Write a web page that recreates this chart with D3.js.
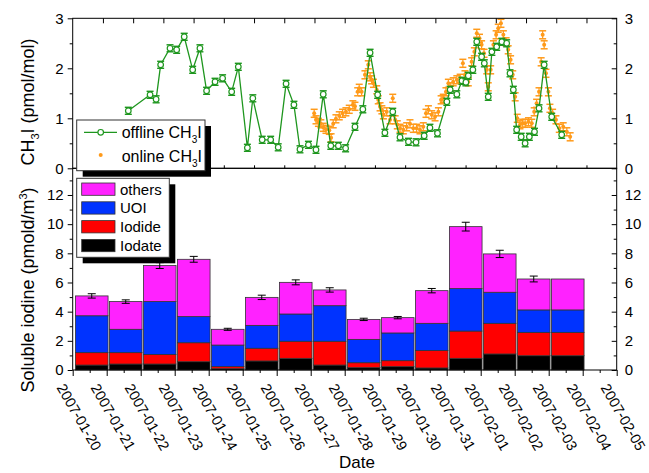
<!DOCTYPE html>
<html>
<head>
<meta charset="utf-8">
<script src="https://cdn.jsdelivr.net/npm/d3@7"></script>
<style>
  body { margin: 0; background: #fff; }
  text { font-family: Arial, "Liberation Sans", sans-serif; fill: #000; }
</style>
</head>
<body>
<svg id="chart" width="649" height="473"></svg>
<script>
// ---- data ----
// top panel: days since 2007-01-20 00:00 (top axis runs 18 days)
const offlineDay = [1.84, 2.56, 2.76, 2.91, 3.22, 3.44, 3.69, 3.97, 4.21, 4.43,
  4.71, 4.96, 5.26, 5.48, 5.78, 5.96, 6.27, 6.55, 6.80, 7.06,
  7.32, 7.52, 7.80, 8.05, 8.29, 8.54, 8.79, 9.03, 9.34, 9.60,
  9.84, 10.09, 10.33, 10.59, 10.83, 11.11, 11.36, 11.63, 11.82, 12.07,
  12.38, 12.49, 12.71, 12.88, 13.01, 13.09, 13.24, 13.37, 13.53, 13.62,
  13.75, 13.87, 14.03, 14.20, 14.36, 14.47, 14.58, 14.69, 14.84, 14.97,
  15.11, 15.28, 15.43, 15.60, 15.85, 16.18];
const offlineVal = [1.15, 1.47, 1.38, 2.07, 2.40, 2.37, 2.63, 1.97, 2.40, 1.55,
  1.73, 1.80, 1.53, 2.03, 0.41, 1.40, 0.57, 0.57, 0.42, 1.69,
  1.27, 0.38, 0.47, 0.37, 1.48, 0.45, 0.45, 0.40, 0.83, 1.18,
  2.31, 1.47, 0.71, 1.13, 0.62, 0.53, 0.52, 0.65, 0.81, 0.70,
  1.33, 1.57, 1.48, 1.75, 1.72, 1.85, 1.97, 2.53, 2.23, 2.10,
  1.43, 2.33, 2.43, 2.53, 2.50, 1.90, 1.57, 0.77, 0.63, 0.50,
  0.63, 0.73, 1.20, 2.07, 1.03, 0.67];

const onlineDay = [7.99, 8.05, 8.13, 8.21, 8.29, 8.38, 8.49, 8.55, 8.62, 8.71,
  8.82, 8.93, 9.04, 9.15, 9.27, 9.34, 9.43, 9.48, 9.56, 9.67,
  9.78, 9.84, 9.89, 9.95, 10.06, 10.11, 10.17, 10.23, 10.28, 10.39,
  10.50, 10.59, 10.67, 10.74, 10.83, 10.94, 11.05, 11.16, 11.27, 11.38,
  11.49, 11.60, 11.69, 11.77, 11.88, 11.99, 12.10, 12.19, 12.26, 12.35,
  12.43, 12.51, 12.59, 12.71, 12.82, 12.91, 12.98, 13.09, 13.20, 13.29,
  13.37, 13.46, 13.53, 13.61, 13.70, 13.75, 13.83, 13.92, 14.01, 14.08,
  14.17, 14.25, 14.34, 14.41, 14.49, 14.56, 14.64, 14.71, 14.80, 14.89,
  14.97, 15.08, 15.19, 15.27, 15.35, 15.43, 15.50, 15.55, 15.60, 15.66,
  15.74, 15.79, 15.88, 15.99, 16.10, 16.23, 16.35, 16.46];
const onlineVal = [1.10, 0.97, 0.92, 0.89, 0.82, 0.78, 0.76, 0.61, 0.89, 0.99,
  1.05, 1.10, 1.13, 1.18, 1.27, 1.24, 1.53, 1.60, 1.53, 1.87,
  2.07, 1.83, 1.77, 1.70, 1.57, 1.37, 1.23, 1.17, 1.07, 1.13,
  0.97, 1.40, 0.97, 0.87, 0.80, 0.77, 0.83, 0.89, 0.80, 0.80,
  0.77, 0.83, 1.10, 1.17, 1.07, 1.03, 1.13, 1.37, 1.40, 1.53,
  1.70, 1.63, 1.73, 1.77, 1.80, 2.10, 1.87, 1.73, 2.13, 2.33,
  2.70, 2.60, 2.47, 2.30, 1.97, 1.63, 1.97, 2.47, 2.67, 2.80,
  2.90, 2.67, 2.53, 2.37, 2.17, 1.87, 1.43, 1.00, 0.87, 0.90,
  0.90, 0.93, 0.90, 1.13, 1.30, 1.53, 2.13, 2.67, 2.47, 1.90,
  1.53, 1.20, 1.10, 0.97, 0.80, 0.83, 0.73, 0.63];

// bottom panel: daily soluble iodine species (pmol/m3)
const barDates = ["2007-01-20", "2007-01-21", "2007-01-22", "2007-01-23", "2007-01-24",
  "2007-01-25", "2007-01-26", "2007-01-27", "2007-01-28", "2007-01-29",
  "2007-01-30", "2007-01-31", "2007-02-01", "2007-02-02", "2007-02-03"];
const iodate = [0.34, 0.41, 0.41, 0.57, 0.09, 0.62, 0.80, 0.34, 0.16, 0.23, 0.14, 0.80, 1.10, 0.98, 0.98];
const iodide = [0.85, 0.78, 0.66, 1.30, 0.14, 0.87, 1.17, 1.63, 0.34, 0.41, 1.19, 1.87, 2.10, 1.60, 1.60];
const uoi    = [2.53, 1.60, 3.62, 1.79, 1.48, 1.57, 1.87, 2.44, 1.60, 1.90, 1.87, 2.91, 2.13, 1.54, 1.54];
const others = [1.36, 1.90, 2.47, 3.93, 1.08, 1.92, 2.17, 1.08, 1.37, 1.05, 2.24, 4.25, 2.63, 2.12, 2.12];
const totalErr = [0.15, 0.12, 0.2, 0.2, 0.07, 0.15, 0.17, 0.15, 0.08, 0.08, 0.15, 0.3, 0.25, 0.2, null];

const species = ["iodate", "iodide", "uoi", "others"];
const speciesColor = { iodate: "#000000", iodide: "#ff0000", uoi: "#0033ff", others: "#ff22ff" };
const legendItems = [["others", "others"], ["uoi", "UOI"], ["iodide", "Iodide"], ["iodate", "Iodate"]];

const green = "#1e961e";
const orange = "#ff9a1a";

// ---- layout ----
const left = 72.7, right = 616.7;
const topY1 = 18.3, topY0 = 168.3;
const botY1 = 168.3, botY0 = 370;
const DAY = 864e5;

const svg = d3.select("#chart");

const xTop = d3.scaleLinear().domain([0, 18]).range([left, right]);
const yTop = d3.scaleLinear().domain([0, 3]).range([topY0, topY1]);
const xBot = d3.scaleTime().domain([new Date(2007, 0, 20), new Date(2007, 1, 5)]).range([left, right]);
const yBot = d3.scaleLinear().domain([0, 13.83]).range([botY0, botY1]);

function tidy(g, size) {
  g.select(".domain").remove();
  g.selectAll("line").attr("stroke", "#000");
  g.selectAll("text").style("font-size", (size || 15) + "px").attr("fill", "#000");
}

// ---- bottom panel: stacked bars ----
const parse = d3.timeParse("%Y-%m-%d");
const table = barDates.map((d, i) => ({
  date: parse(d), iodate: iodate[i], iodide: iodide[i], uoi: uoi[i], others: others[i], err: totalErr[i]
}));
const stacked = d3.stack().keys(species)(table);

const bars = svg.append("g").attr("class", "bars");
bars.selectAll("g")
  .data(stacked)
  .enter()
  .append("g")
  .attr("fill", d => speciesColor[d.key])
  .selectAll("rect")
  .data(d => d)
  .enter()
  .append("rect")
  .attr("x", d => xBot(new Date(+d.data.date + 0.08 * DAY)))
  .attr("width", d => xBot(new Date(+d.data.date + 1.04 * DAY)) - xBot(new Date(+d.data.date + 0.08 * DAY)))
  .attr("y", d => yBot(d[1]))
  .attr("height", d => yBot(d[0]) - yBot(d[1]))
  .attr("stroke", "#333")
  .attr("stroke-width", 0.8);

const errG = svg.append("g").attr("stroke", "#000").attr("stroke-width", 1);
table.filter(d => d.err != null).forEach(d => {
  const tot = d.iodate + d.iodide + d.uoi + d.others;
  const cx = xBot(new Date(+d.date + 0.56 * DAY));
  errG.append("line").attr("x1", cx).attr("x2", cx).attr("y1", yBot(tot - d.err)).attr("y2", yBot(tot + d.err));
  errG.append("line").attr("x1", cx - 4).attr("x2", cx + 4).attr("y1", yBot(tot - d.err)).attr("y2", yBot(tot - d.err));
  errG.append("line").attr("x1", cx - 4).attr("x2", cx + 4).attr("y1", yBot(tot + d.err)).attr("y2", yBot(tot + d.err));
});

// ---- top panel: CH3I ----
const onG = svg.append("g");
onlineDay.forEach((t, i) => {
  const cx = xTop(t), v = onlineVal[i], e = 0.08;
  onG.append("line").attr("x1", cx).attr("x2", cx).attr("y1", yTop(v - e)).attr("y2", yTop(v + e))
    .attr("stroke", orange).attr("stroke-width", 1.2);
  [v - e, v + e].forEach(w => onG.append("line").attr("x1", cx - 3.5).attr("x2", cx + 3.5)
    .attr("y1", yTop(w)).attr("y2", yTop(w)).attr("stroke", orange).attr("stroke-width", 1.5));
  onG.append("circle").attr("cx", cx).attr("cy", yTop(v)).attr("r", 2).attr("fill", orange);
});

const offPts = offlineDay.map((t, i) => [t, offlineVal[i]]);
svg.append("path")
  .datum(offPts)
  .attr("d", d3.line().x(d => xTop(d[0])).y(d => yTop(d[1])))
  .attr("fill", "none").attr("stroke", green).attr("stroke-width", 1.3);

const offG = svg.append("g").attr("stroke", green);
offPts.forEach(d => {
  const cx = xTop(d[0]), e = 0.07;
  offG.append("line").attr("x1", cx).attr("x2", cx).attr("y1", yTop(d[1] - e)).attr("y2", yTop(d[1] + e)).attr("stroke-width", 1.2);
  [d[1] - e, d[1] + e].forEach(w => offG.append("line").attr("x1", cx - 3.5).attr("x2", cx + 3.5)
    .attr("y1", yTop(w)).attr("y2", yTop(w)).attr("stroke-width", 1.4));
  offG.append("circle").attr("cx", cx).attr("cy", yTop(d[1])).attr("r", 2.8)
    .attr("fill", "#fff").attr("stroke-width", 1.2);
});

// ---- frames ----
svg.append("rect").attr("x", left).attr("y", topY1).attr("width", right - left).attr("height", topY0 - topY1)
  .attr("fill", "none").attr("stroke", "#000");
svg.append("rect").attr("x", left).attr("y", botY1).attr("width", right - left).attr("height", botY0 - botY1)
  .attr("fill", "none").attr("stroke", "#000");

// ---- axes: top panel ----
svg.append("g").attr("transform", `translate(${left},0)`)
  .call(d3.axisLeft(yTop).tickValues([0, 1, 2, 3]).tickSize(5).tickPadding(4).tickFormat(d3.format("d"))).call(tidy);
svg.append("g").attr("transform", `translate(${left},0)`)
  .call(d3.axisLeft(yTop).tickValues([0.5, 1.5, 2.5]).tickSize(3).tickFormat("")).call(tidy);
svg.append("g").attr("transform", `translate(${right},0)`)
  .call(d3.axisRight(yTop).tickValues([0, 1, 2, 3]).tickSize(-5).tickPadding(8).tickFormat(d3.format("d"))).call(tidy);
svg.append("g").attr("transform", `translate(${right},0)`)
  .call(d3.axisRight(yTop).tickValues([0.5, 1.5, 2.5]).tickSize(-3).tickFormat("")).call(tidy);
svg.append("g").attr("transform", `translate(0,${topY1})`)
  .call(d3.axisTop(xTop).tickValues(d3.range(1, 18)).tickSize(-5).tickFormat("")).call(tidy);
svg.append("g").attr("transform", `translate(0,${topY0})`)
  .call(d3.axisBottom(xTop).tickValues(d3.range(1, 18)).tickSize(-3).tickFormat("")).call(tidy);

// ---- axes: bottom panel ----
svg.append("g").attr("transform", `translate(${left},0)`)
  .call(d3.axisLeft(yBot).tickValues(d3.range(0, 13, 2)).tickSize(5).tickPadding(4)).call(tidy);
svg.append("g").attr("transform", `translate(${left},0)`)
  .call(d3.axisLeft(yBot).tickValues(d3.range(1, 14, 2)).tickSize(3).tickFormat("")).call(tidy);
svg.append("g").attr("transform", `translate(${right},0)`)
  .call(d3.axisRight(yBot).tickValues(d3.range(0, 13, 2)).tickSize(-5).tickPadding(8)).call(tidy);
svg.append("g").attr("transform", `translate(${right},0)`)
  .call(d3.axisRight(yBot).tickValues(d3.range(1, 14, 2)).tickSize(-3).tickFormat("")).call(tidy);

const xAxisG = svg.append("g").attr("transform", `translate(0,${botY0})`)
  .call(d3.axisBottom(xBot).ticks(d3.timeDay.every(1)).tickSize(6).tickFormat(d3.timeFormat("%Y-%m-%d")))
  .call(tidy, 14.5);
xAxisG.selectAll("text")
  .attr("x", 0).attr("y", 0).attr("dy", "0.35em")
  .attr("text-anchor", "middle")
  .attr("transform", "translate(6,47) rotate(60)");
svg.append("g").attr("transform", `translate(0,${botY0})`)
  .call(d3.axisBottom(xBot).tickValues(d3.timeDay.range(new Date(2007, 0, 20), new Date(2007, 1, 5)).map(d => new Date(+d + DAY / 2)))
    .tickSize(3).tickFormat("")).call(tidy);

// ---- axis titles ----
svg.append("text").attr("x", 357).attr("y", 468).attr("text-anchor", "middle").style("font-size", "17px").text("Date");

const t1 = svg.append("text").attr("text-anchor", "middle").style("font-size", "18px")
  .attr("transform", "translate(34,102) rotate(-90)");
t1.append("tspan").text("CH");
t1.append("tspan").attr("dy", 5).style("font-size", "11px").text("3");
t1.append("tspan").attr("dy", -5).text("I (pmol/mol)");

const t2 = svg.append("text").attr("text-anchor", "middle").style("font-size", "18px")
  .attr("transform", "translate(34,290) rotate(-90)");
t2.append("tspan").text("Soluble iodine (pmold/m");
t2.append("tspan").attr("dy", -7).style("font-size", "11px").text("3");
t2.append("tspan").attr("dy", 7).text(")");

// ---- legend: CH3I ----
const lg1 = svg.append("g");
lg1.append("rect").attr("x", 82.7).attr("y", 126).attr("width", 128.3).attr("height", 50.7).attr("fill", "#000");
lg1.append("rect").attr("x", 76.7).attr("y", 120).attr("width", 128.3).attr("height", 50.7)
  .attr("fill", "#fff").attr("stroke", "#333");
lg1.append("line").attr("x1", 84).attr("x2", 117).attr("y1", 132.3).attr("y2", 132.3).attr("stroke", green).attr("stroke-width", 1.3);
lg1.append("circle").attr("cx", 100.7).attr("cy", 132.3).attr("r", 2.8).attr("fill", "#fff").attr("stroke", green).attr("stroke-width", 1.2);
lg1.append("circle").attr("cx", 100.7).attr("cy", 155).attr("r", 2).attr("fill", orange);
[["offline CH", 138.3], ["online CH", 161.5]].forEach(([s, y]) => {
  const t = lg1.append("text").attr("x", 121.7).attr("y", y).style("font-size", "16px");
  t.append("tspan").text(s);
  t.append("tspan").attr("dy", 5).style("font-size", "10px").text("3");
  t.append("tspan").attr("dy", -5).text("I");
});

// ---- legend: species ----
const lg2 = svg.append("g");
lg2.append("rect").attr("x", 82.7).attr("y", 184.3).attr("width", 92.6).attr("height", 79).attr("fill", "#000");
lg2.append("rect").attr("x", 76.7).attr("y", 178.3).attr("width", 92.6).attr("height", 79)
  .attr("fill", "#fff").attr("stroke", "#333");
legendItems.forEach(([k, label], i) => {
  const y = 183 + i * 18.8;
  lg2.append("rect").attr("x", 81.7).attr("y", y).attr("width", 33.3).attr("height", 12.3)
    .attr("fill", speciesColor[k]).attr("stroke", "#333").attr("stroke-width", 0.8);
  lg2.append("text").attr("x", 120).attr("y", y + 11.5).style("font-size", "15px").text(label);
});
</script>
</body>
</html>
